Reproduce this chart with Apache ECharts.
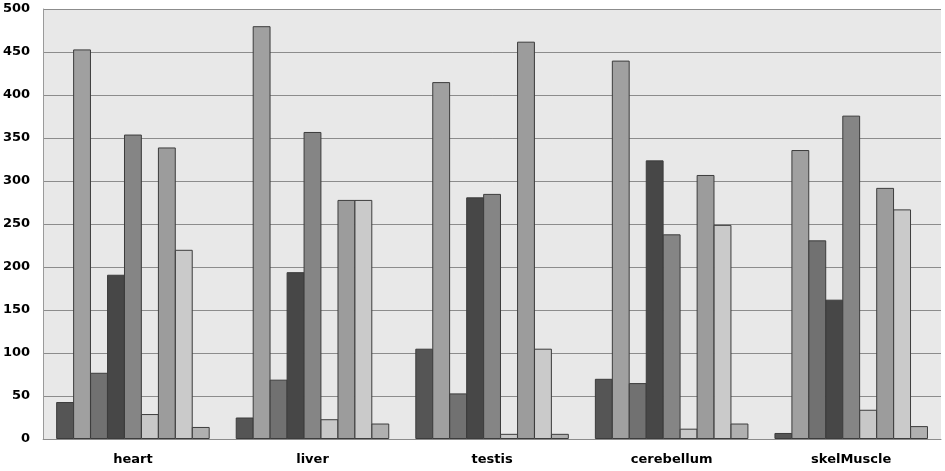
<!DOCTYPE html>
<html>
<head>
<meta charset="utf-8">
<script src="https://cdn.jsdelivr.net/npm/echarts@6/dist/echarts.min.js"></script>
<style>
  html, body { margin: 0; padding: 0; background: #fff; }
  #chart { width: 945px; height: 471px; }
</style>
</head>
<body>
<div id="chart"></div>
<script>
  // 카테고리 (조직)
  const tissues = ['heart', 'liver', 'testis', 'cerebellum', 'skelMuscle'];

  // 시리즈 값 (조직별 순서)
  const s1 = [43, 25, 105, 70, 7];
  const s2 = [453, 480, 415, 440, 336];
  const s3 = [77, 69, 53, 65, 231];
  const s4 = [191, 194, 281, 324, 162];
  const s5 = [354, 357, 285, 238, 376];
  const s6 = [29, 23, 6, 12, 34];
  const s7 = [339, 278, 462, 307, 292];
  const s8 = [220, 278, 105, 249, 267];
  const s9 = [14, 18, 6, 18, 15];

  const seriesData = [s1, s2, s3, s4, s5, s6, s7, s8, s9];
  const fills = ['#555555', '#a0a0a0', '#717171', '#474747', '#858585',
                 '#c8c8c8', '#9c9c9c', '#cacaca', '#b0b0b0'];

  const chart = echarts.init(document.getElementById('chart'));

  chart.setOption({
    animation: false,
    grid: {
      left: 42,
      right: 4,
      top: 9,
      bottom: 32,
      show: true,
      backgroundColor: '#e8e8e8',
      borderWidth: 0
    },
    xAxis: {
      type: 'category',
      data: tissues,
      axisTick: { show: false },
      axisLine: { lineStyle: { color: '#8c8c8c', width: 1 } },
      axisLabel: {
        margin: 14,
        fontFamily: 'DejaVu Sans',
        fontWeight: 'bold',
        fontSize: 13,
        color: '#000'
      }
    },
    yAxis: {
      type: 'value',
      min: 0,
      max: 500,
      interval: 50,
      axisLine: { show: true, lineStyle: { color: '#9a9a9a', width: 1 } },
      axisTick: { show: false },
      splitLine: { lineStyle: { color: '#8c8c8c', width: 1 } },
      axisLabel: {
        margin: 13,
        fontFamily: 'DejaVu Sans',
        fontWeight: 'bold',
        fontSize: 13,
        color: '#000'
      }
    },
    series: seriesData.map((d, i) => ({
      type: 'bar',
      data: d,
      barGap: '-5%',
      barCategoryGap: '14.5%',
      itemStyle: {
        color: fills[i],
        borderColor: '#3c3c3c',
        borderWidth: 1
      }
    }))
  });
</script>
</body>
</html>
